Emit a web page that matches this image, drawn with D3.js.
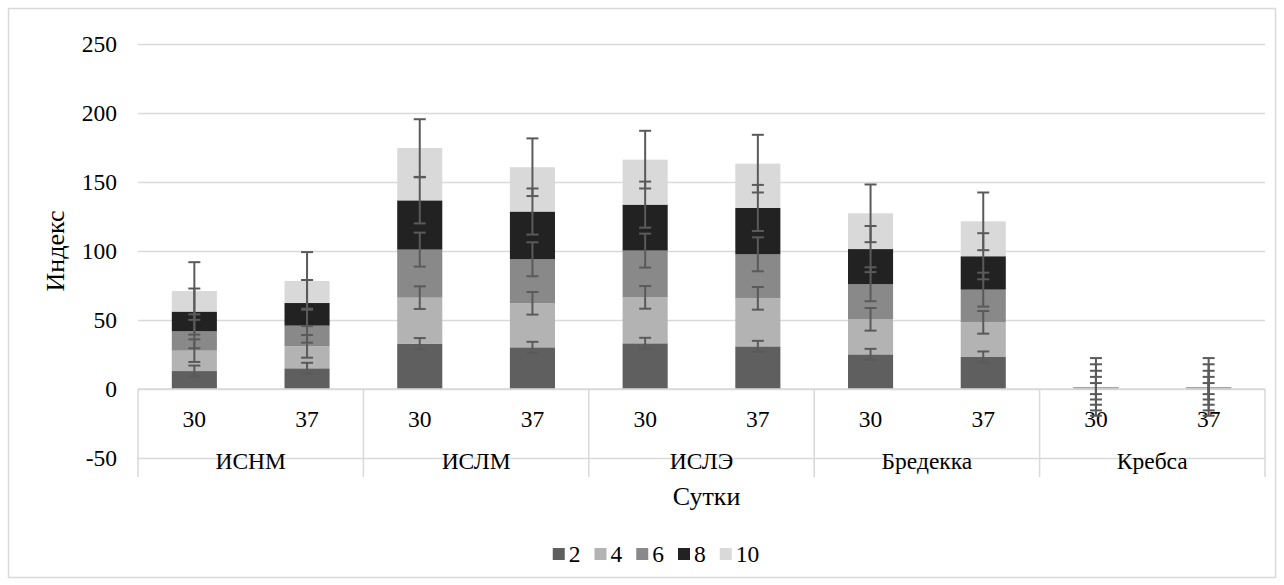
<!DOCTYPE html>
<html>
<head>
<meta charset="utf-8">
<script src="https://cdn.jsdelivr.net/npm/d3@7"></script>
<style>
  body { margin: 0; background: #fff; }
  svg { display: block; }
</style>
</head>
<body>
<svg id="chart" width="1284" height="585"></svg>
<script>
// groups and days on the category axis
var groups = ["ИСНМ", "ИСЛМ", "ИСЛЭ", "Бредекка", "Кребса"];
var days = ["30", "37"];

// stacked series (one value per bar, bars ordered group by group, 30 then 37)
var seriesNames = ["2", "4", "6", "8", "10"];
var s2  = [13.0, 15.0, 32.9, 30.2, 33.1, 30.9, 25.1, 23.2, 0.3, 0.3];
var s4  = [14.8, 15.9, 33.3, 31.9, 33.3, 34.8, 25.4, 25.1, 0.3, 0.3];
var s6  = [14.0, 15.0, 34.8, 31.9, 33.9, 31.9, 25.4, 23.7, 0.3, 0.3];
var s8  = [14.3, 16.4, 35.7, 34.6, 33.3, 33.6, 25.5, 24.2, 0.3, 0.3];
var s10 = [14.9, 16.0, 37.9, 32.1, 32.6, 32.1, 25.9, 25.3, 0.3, 0.3];

// error bar size per series (same for every bar of a series)
var errors = [4.0, 8.2, 12.3, 16.7, 20.9];

var yTicks = [-50, 0, 50, 100, 150, 200, 250];
var colors = ["#5f5f5f", "#b3b3b3", "#898989", "#222222", "#d9d9d9"];

var svg = d3.select("#chart");

// pick the first serif face that is really installed
function textWidth(family) {
  var t = svg.append("text").style("font-family", family).style("font-size", "40px")
    .text("ИСНМ Бредекка 0123");
  var w = t.node().getComputedTextLength();
  t.remove();
  return w;
}
var serif = "serif";
var base = textWidth("monospace");
["Liberation Serif", "Times New Roman", "Tinos", "Noto Serif", "DejaVu Serif"].some(function(f) {
  if (Math.abs(textWidth("'" + f + "', monospace") - base) > 0.5) {
    serif = "'" + f + "', serif";
    return true;
  }
  return false;
});

var plotL = 138, plotR = 1265, plotT = 44, plotB = 458;
var plotW = plotR - plotL;

// outer border of the chart area
svg.append("rect")
  .attr("x", 8.5).attr("y", 8.5)
  .attr("width", 1267).attr("height", 569)
  .attr("fill", "none")
  .attr("stroke", "#d9d9d9")
  .attr("stroke-width", 1.5);

var y = d3.scaleLinear().domain([-50, 250]).range([plotB, plotT]);

var xGroup = d3.scaleBand().domain(groups).range([plotL, plotR]);
var xDay = d3.scaleBand().domain(days).range([0, xGroup.bandwidth()])
  .paddingInner(0.6).paddingOuter(0.3);

// gridlines + y labels
var yAxis = svg.append("g")
  .attr("transform", "translate(" + plotL + ",0)")
  .call(d3.axisLeft(y).tickValues(yTicks).tickSize(-plotW).tickPadding(21)
    .tickFormat(function(d) { return String(d); }));
yAxis.attr("font-family", null).attr("font-size", null);
yAxis.select(".domain").remove();
yAxis.selectAll(".tick line")
  .attr("stroke", "#d9d9d9")
  .attr("stroke-width", 1.5);
yAxis.selectAll(".tick text")
  .attr("fill", "#000")
  .style("font-family", serif)
  .style("font-size", "23.5px");

// build rows for every bar
var all = [s2, s4, s6, s8, s10];
var bars = [];
groups.forEach(function(g, gi) {
  days.forEach(function(d, di) {
    var i = gi * days.length + di;
    var row = { group: g, day: d };
    seriesNames.forEach(function(s, si) { row[s] = all[si][i]; });
    bars.push(row);
  });
});

var layers = d3.stack().keys(seriesNames)(bars);

var barX = function(d) { return xGroup(d.data.group) + xDay(d.data.day); };

svg.append("g").selectAll("g")
  .data(layers)
  .enter().append("g")
    .attr("fill", function(d, i) { return colors[i]; })
  .selectAll("rect")
  .data(function(d) { return d; })
  .enter().append("rect")
    .attr("x", barX)
    .attr("width", xDay.bandwidth())
    .attr("y", function(d) { return y(d[1]); })
    .attr("height", function(d) { return Math.max(y(d[0]) - y(d[1]), 0.6); });

// category axis table
var cat = svg.append("g").attr("stroke", "#d9d9d9").attr("stroke-width", 1.5);
cat.append("line")
  .attr("x1", plotL).attr("x2", plotR)
  .attr("y1", y(0)).attr("y2", y(0));
var seps = groups.map(function(g) { return xGroup(g); }).concat([plotR]);
cat.selectAll("line.sep")
  .data(seps)
  .enter().append("line")
    .attr("class", "sep")
    .attr("x1", function(d) { return d; })
    .attr("x2", function(d) { return d; })
    .attr("y1", y(0))
    .attr("y2", 477);

// day labels
svg.append("g").selectAll("text")
  .data(bars)
  .enter().append("text")
    .attr("x", function(d) { return xGroup(d.group) + xDay(d.day) + xDay.bandwidth() / 2; })
    .attr("y", 427)
    .attr("text-anchor", "middle")
    .style("font-family", serif)
    .style("font-size", "23.5px")
    .text(function(d) { return d.day; });

// error bars
var eb = svg.append("g")
  .attr("stroke", "#5a5a5a")
  .attr("stroke-width", 2);
layers.forEach(function(layer, si) {
  layer.forEach(function(d) {
    var cx = barX(d) + xDay.bandwidth() / 2;
    var hi = y(d[1] + errors[si]), lo = y(d[1] - errors[si]);
    eb.append("line").attr("x1", cx).attr("x2", cx).attr("y1", hi).attr("y2", lo);
    eb.append("line").attr("x1", cx - 6).attr("x2", cx + 6).attr("y1", hi).attr("y2", hi);
    eb.append("line").attr("x1", cx - 6).attr("x2", cx + 6).attr("y1", lo).attr("y2", lo);
  });
});

// group labels
svg.append("g").selectAll("text")
  .data(groups)
  .enter().append("text")
    .attr("x", function(d) { return xGroup(d) + xGroup.bandwidth() / 2; })
    .attr("y", 469)
    .attr("text-anchor", "middle")
    .style("font-family", serif)
    .style("font-size", "23.5px")
    .text(function(d) { return d; });

// axis titles
svg.append("text")
  .attr("x", (plotL + plotR) / 2 + 5)
  .attr("y", 505)
  .attr("text-anchor", "middle")
  .style("font-family", serif)
  .style("font-size", "26px")
  .text("Сутки");

svg.append("text")
  .attr("transform", "translate(64," + (plotT + plotB) / 2 + ") rotate(-90)")
  .attr("text-anchor", "middle")
  .style("font-family", serif)
  .style("font-size", "26px")
  .text("Индекс");

// legend
var legend = svg.append("g");
var lx = 0;
seriesNames.forEach(function(s, i) {
  var item = legend.append("g").attr("transform", "translate(" + lx + ",0)");
  item.append("rect")
    .attr("x", 0).attr("y", -6)
    .attr("width", 12).attr("height", 12)
    .attr("fill", colors[i]);
  var t = item.append("text")
    .attr("x", 16).attr("y", 8)
    .style("font-family", serif)
    .style("font-size", "23.5px")
    .text(s);
  lx += 16 + t.node().getComputedTextLength() + 14;
});
lx -= 14;
legend.attr("transform", "translate(" + (656 - lx / 2) + ",554)");
</script>
</body>
</html>
